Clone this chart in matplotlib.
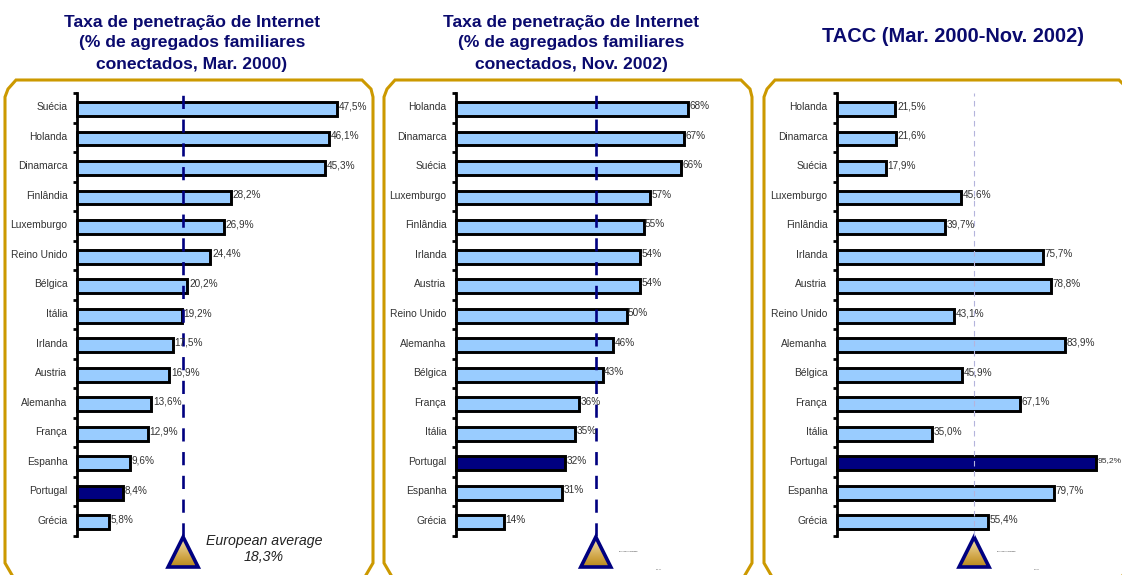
import numpy as np
import matplotlib
matplotlib.use("Agg")
import matplotlib.pyplot as plt
from matplotlib.colors import LinearSegmentedColormap
from matplotlib.patches import Polygon
from matplotlib.transforms import ScaledTranslation

plt.rcParams['font.family'] = ['Liberation Sans', 'DejaVu Sans']

cats1 = ["Suécia", "Holanda", "Dinamarca", "Finlândia", "Luxemburgo", "Reino Unido", "Bélgica", "Itália",
         "Irlanda", "Austria", "Alemanha", "França", "Espanha", "Portugal", "Grécia"]
vals1 = [47.5, 46.1, 45.3, 28.2, 26.9, 24.4, 20.2, 19.2, 17.5, 16.9, 13.6, 12.9, 9.6, 8.4, 5.8]
cats2 = ["Holanda", "Dinamarca", "Suécia", "Luxemburgo", "Finlândia", "Irlanda", "Austria", "Reino Unido",
         "Alemanha", "Bélgica", "França", "Itália", "Portugal", "Espanha", "Grécia"]
vals2 = [68, 67, 66, 57, 55, 54, 54, 50, 46, 43, 36, 35, 32, 31, 14]
vals3 = [21.5, 21.6, 17.9, 45.6, 39.7, 75.7, 78.8, 43.1, 83.9, 45.9, 67.1, 35.0, 95.2, 79.7, 55.4]
cats3 = cats2
titles = ["Taxa de penetração de Internet\n(% de agregados familiares\nconectados, Mar. 2000)",
          "Taxa de penetração de Internet\n(% de agregados familiares\nconectados, Nov. 2002)",
          "TACC (Mar. 2000-Nov. 2002)"]
title_sizes = [12.6, 12.6, 14.4]
avg_pos = [19.4, 41.0, 50.4]
highlight = "Portugal"

NAVY = "#000080"
TITLE_NAVY = "#0A0A6E"
GOLD = "#CC9900"
BLUE = "#99CCFF"
W, H = 1122, 575
fig = plt.figure(figsize=(W / 100, H / 100), dpi=100, facecolor="white")
bg = fig.add_axes([0, 0, 1, 1])
bg.set_xlim(0, W)
bg.set_ylim(H, 0)
bg.axis("off")

def frame(l, r):
    xs = [l + 7, l, l, l + 3, l + 11, r - 11, r - 2, r, r, r - 7]
    ys = [575, 563, 97, 89, 80, 80, 89, 97, 563, 575]
    bg.plot(xs, ys, color=GOLD, lw=2.2, solid_joinstyle="miter", clip_on=True)

frame(5, 373)
frame(384, 752)
frame(764, 1130)

grad = LinearSegmentedColormap.from_list("g", ["#F0DDA8", "#E2C47E", "#D0A546", "#B98A1E"])

def triangle(cx):
    pts = [(cx, 537), (cx - 15, 567), (cx + 15, 567)]
    im = bg.imshow(np.linspace(0, 1, 32)[:, None], cmap=grad, aspect="auto",
                   extent=(cx - 15, cx + 15, 567, 537), zorder=3)
    tri = Polygon(pts, closed=True, facecolor="none", edgecolor=NAVY, lw=2.6, zorder=4, joinstyle="miter")
    bg.add_patch(tri)
    im.set_clip_path(tri)
    bg.set_xlim(0, W)
    bg.set_ylim(H, 0)

panels = [
    (cats1, vals1, 77, 5.47, "{:.1f}%", titles[0], 192, NAVY, 1.9, (5, 4)),
    (cats2, vals2, 456, 3.41, "{:.0f}%", titles[1], 571, NAVY, 1.9, (5, 4)),
    (cats3, vals3, 837, 2.72, "{:.1f}%", titles[2], 952.5, "#B4B4DC", 0.8, (5, 4)),
]
TOP, BOT = 93, 536
up = ScaledTranslation(0, 1.5 / 100, fig.dpi_scale_trans)
for i, (cats, vals, x0, sc, fmt, title, tx, lc, lw, dash) in enumerate(panels):
    width = 270
    ax = fig.add_axes([x0 / W, 1 - BOT / H, width / W, (BOT - TOP) / H])
    ax.patch.set_alpha(0)
    ax.set_xlim(0, width / sc)
    ax.set_ylim(len(cats) - 0.5, -0.5)
    y = np.arange(len(cats))
    colors = [NAVY if c == highlight else BLUE for c in cats]
    ax.barh(y + 0.22, vals, height=0.06, color="#666666", zorder=2, clip_on=False)
    ax.barh(y + 0.04, vals, height=0.47, color=colors, edgecolor="black", lw=2.1, zorder=3, clip_on=False)
    for yy, v in zip(y, vals):
        px_end = x0 + v * sc
        size = 6.1 if px_end > 1085 else 7.2
        t = ax.text(v + 1.5 / sc, yy, fmt.format(v).replace(".", ","), fontsize=size, color="#333333",
                    va="center", ha="left", zorder=6, clip_on=False)
        t.set_transform(t.get_transform() + up)
    ax.axvline(avg_pos[i], color=lc, lw=lw, dashes=dash, zorder=5, clip_on=False)
    for s in ("top", "right", "bottom"):
        ax.spines[s].set_visible(False)
    ax.spines["left"].set_linewidth(2.0)
    ax.set_xticks([])
    ax.set_yticks(y, cats, fontsize=7.4, color="#333333")
    ax.set_yticks(np.arange(len(cats) + 1) - 0.5, minor=True)
    ax.tick_params(axis="y", which="major", length=0, pad=7)
    ax.tick_params(axis="y", which="minor", length=3.2, width=2.0, color="black")
    for lbl in ax.get_yticklabels():
        lbl.set_transform(lbl.get_transform() + up)

    triangle(x0 + avg_pos[i] * sc)
    fig.text(tx / W, 1 - (37 if i == 2 else 43) / H, title, ha="center", va="center", fontsize=title_sizes[i],
             fontweight="bold", color=TITLE_NAVY, linespacing=1.5)

bg.text(264, 549, "European average\n18,3%", ha="center", va="center", fontsize=10.2,
        style="italic", color="#222222", linespacing=1.2)
small = [(628, 552, "European average"), (659, 569, "41 %"), (1006, 552, "European average"), (1037, 569, "50 %")]
for sx, sy, s in small:
    bg.text(sx, sy, s, ha="center", va="center", fontsize=1.6, color="#333333")

fig.savefig("out.png", dpi=100)
